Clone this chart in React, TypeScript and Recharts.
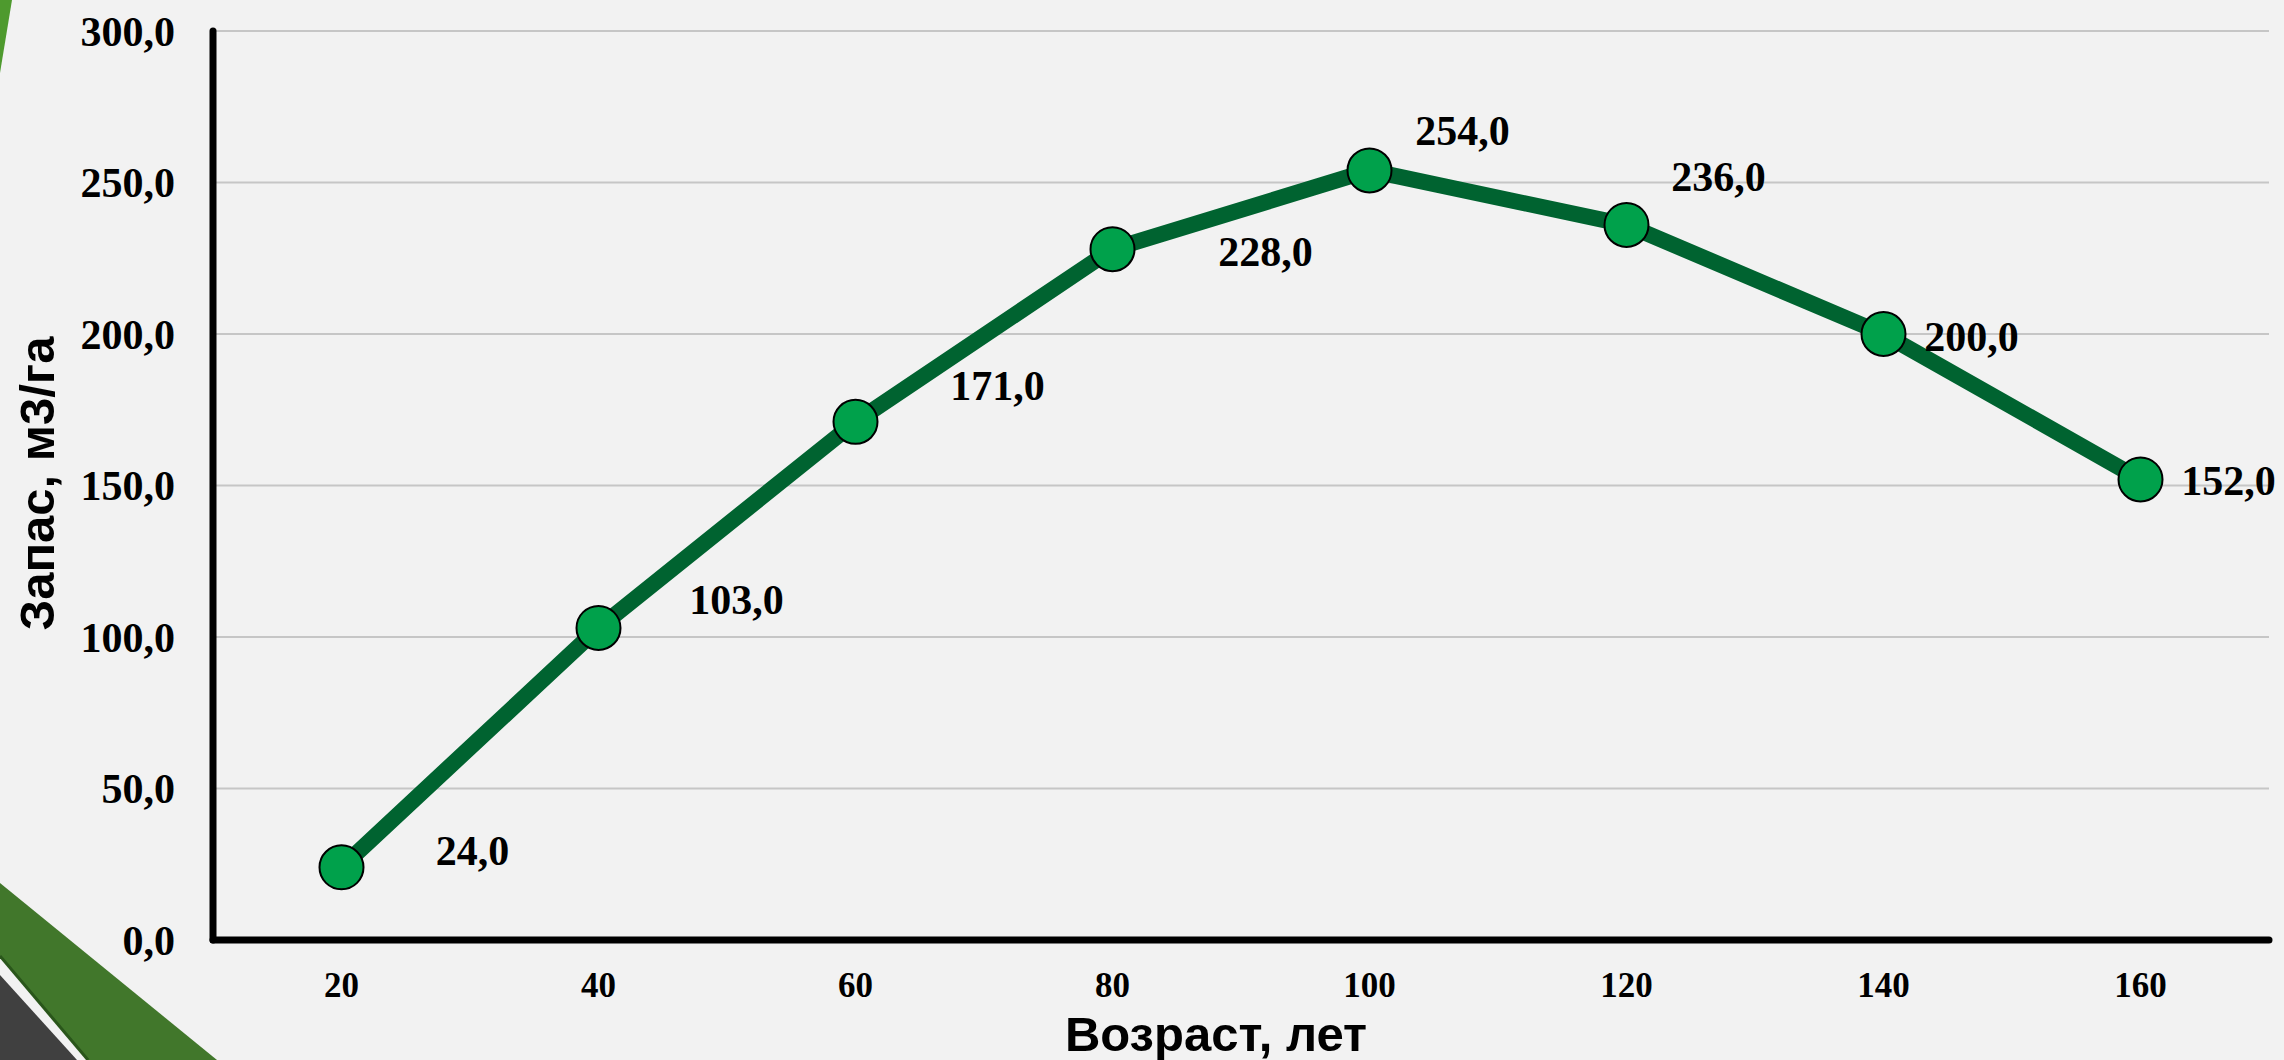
import React from 'react';
import { LineChart, Line, XAxis, YAxis, CartesianGrid, LabelList, Label } from 'recharts';

// ---- data ----
const ages: number[] = [20, 40, 60, 80, 100, 120, 140, 160];
const stock: number[] = [24, 103, 171, 228, 254, 236, 200, 152];
const yTicks: number[] = [0, 50, 100, 150, 200, 250, 300];
const xTitle = 'Возраст, лет';
const yTitle = 'Запас, м3/га';

// ---- layout constants (label nudges, not data) ----
const labelNudges: [number, number][] = [
  [131, -16], [138, -28], [142, -36], [153, 3], [93, -40], [92, -48], [88, 3], [88, 1],
];

const data = ages.map((a, i) => ({ age: String(a), value: stock[i] }));
const fmt = (v: number) => v.toFixed(1).replace('.', ',');

const W = 2284;
const H = 1060;
const SERIF = '"Liberation Serif", "Times New Roman", serif';
const SANS = '"Liberation Sans", Arial, sans-serif';

const DataLabel = (props: any) => {
  const { x, y, value, index } = props;
  const [dx, dy] = labelNudges[index] || [90, 0];
  const fs = 42;
  return (
    <text x={x + dx} y={y + dy + fs * 0.338} textAnchor="middle" fontFamily={SERIF} fontWeight="bold" fontSize={fs} fill="#000">
      {fmt(Number(value))}
    </text>
  );
};

export default function App() {
  return (
    <div style={{ position: 'absolute', left: 0, top: 0, width: W, height: H, background: '#F2F2F2', overflow: 'hidden' }}>
      <svg width={W} height={H} style={{ position: 'absolute', left: 0, top: 0 }}>
        <polygon points="0,0 12,0 0,73" fill="#4E9A2E" />
        <polygon points="0,883 217,1060 88,1060 0,957" fill="#41772B" />
        <polyline points="0,956 88,1060" fill="none" stroke="#2A561B" strokeWidth={3} />
        <polygon points="0,975 77,1060 0,1060" fill="#404040" />
      </svg>
      <div style={{ position: 'absolute', left: 0, top: 0 }}>
        <LineChart width={W} height={H} data={data} margin={{ top: 31, right: 15, bottom: 0, left: 0 }}>
          <CartesianGrid vertical={false} stroke="#C6C6C6" strokeWidth={2} />
          <XAxis
            dataKey="age"
            type="category"
            height={120}
            padding={{ left: 128.5, right: 128.5 }}
            axisLine={{ stroke: '#000', strokeWidth: 7, strokeLinecap: 'round' }}
            tickLine={false}
            tickSize={0}
            tickMargin={32}
            tick={{ fill: '#000', fontSize: 35, fontFamily: SERIF, fontWeight: 'bold' }}
            interval={0}
          >
            <Label
              content={(p: any) => {
                const vb = p.viewBox || {};
                return (
                  <text x={vb.x + vb.width / 2 - 25} y={1051} textAnchor="middle" fontFamily={SANS} fontWeight="bold" fontSize={49} fill="#000">
                    {xTitle}
                  </text>
                );
              }}
            />
          </XAxis>
          <YAxis
            width={213}
            domain={[0, 300]}
            ticks={yTicks}
            tickFormatter={fmt}
            axisLine={{ stroke: '#000', strokeWidth: 7, strokeLinecap: 'round' }}
            tickLine={false}
            tickSize={0}
            tickMargin={38}
            tick={{ fill: '#000', fontSize: 42, fontFamily: SERIF, fontWeight: 'bold' }}
            interval={0}
          >
            <Label
              content={(p: any) => {
                const vb = p.viewBox || {};
                const cx = 54;
                const cy = vb.y + vb.height / 2 - 2;
                return (
                  <text x={cx} y={cy} transform={`rotate(-90, ${cx}, ${cy})`} textAnchor="middle" fontFamily={SANS} fontWeight="bold" fontSize={49} fill="#000">
                    {yTitle}
                  </text>
                );
              }}
            />
          </YAxis>
          <Line
            type="linear"
            dataKey="value"
            stroke="#006330"
            strokeWidth={16}
            strokeLinejoin="round"
            dot={{ r: 22, fill: '#00A14B', stroke: '#000', strokeWidth: 2 }}
            activeDot={false}
            isAnimationActive={false}
          >
            <LabelList dataKey="value" content={DataLabel} />
          </Line>
        </LineChart>
      </div>
    </div>
  );
}
